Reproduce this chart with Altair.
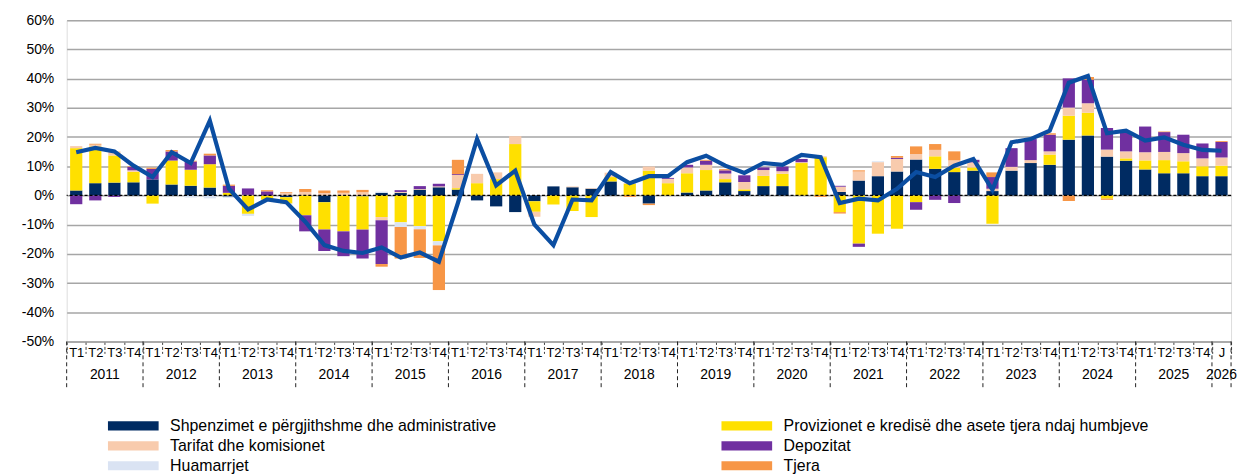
import altair as alt
import pandas as pd

# ---------------- data ----------------
quarters = ["T1", "T2", "T3", "T4"]
year_list = [str(y) for y in range(2011, 2026)] + ["2026"]
period_year = []
period_q = []
for y in range(2011, 2026):
    for q in quarters:
        period_year.append(str(y))
        period_q.append(q)
period_year.append("2026")
period_q.append("J")
periods = [f"{y}-{q}" for y, q in zip(period_year, period_q)]

series_names = [
    "Shpenzimet e përgjithshme dhe administrative",
    "Provizionet e kredisë dhe asete tjera ndaj humbjeve",
    "Tarifat dhe komisionet",
    "Depozitat",
    "Huamarrjet",
    "Tjera",
]
series_colors = ["#002B62", "#FFE000", "#F8CBAD", "#7030A0", "#DAE3F3", "#F79646"]

shpenzimet = [1.7, 4.2, 4.4, 4.5, 5.5, 3.75, 3.3, 2.7, -0.4, 0, 0, -0.6, 0, -2.3, 0, -0.3,
              0.9, 0.9, 2.0, 2.8, 2.0, -1.7, -3.75, -5.7, -2.0, 3.1, 2.8, 2.3, 4.8, 0, -2.8, 0,
              1.0, 1.7, 4.5, 1.5, 3.2, 3.2, 0, 0, 1.2, 5.1, 6.6, 8.2, 12.3, 9.1, 8.0, 8.5,
              1.5, 8.5, 11.1, 10.5, 19.1, 20.5, 13.3, 11.9, 8.9, 7.6, 7.6, 6.6, 6.6]
provizionet = [14.5, 12.6, 9.3, 3.6, -2.8, 8.2, 5.5, 8.0, 0.9, -6.3, -1.5, -2.2, -6.8, -9.4, -12.3, -11.4,
               -7.4, -9.2, -10.5, -15.7, 0.5, 4.2, 5.6, 17.6, -3.6, -3.1, -5.3, -7.4, 1.5, 4.0, 8.5, 4.2,
               6.6, 7.0, 1.1, 0.6, 3.5, 4.2, 11.1, 13.1, -5.7, -16.5, -13.1, -11.4, -2.3, 4.3, 1.5, 1.1,
               -9.7, 0, 0, 3.5, 8.2, 7.8, -1.1, 0.8, 3.1, 4.5, 4.1, 3.4, 3.6]
tarifat = [0.7, 0.6, 1.4, 0.5, 0, 0, 0, 0, 0, 0.2, 0, 0.8, 1.2, 0.8, 0.9, 1.1,
           -1.1, 0.3, 0.2, 0.3, 4.5, 3.2, 2.3, 2.7, -1.7, 0, 0.3, 0.2, 1.5, 0.3, 1.4, 1.5,
           2.0, 1.8, 1.9, 2.5, 2.0, 0.9, 0.3, 0.3, 1.8, 3.1, 4.8, 4.3, 1.9, 2.2, 2.5, 1.7,
           0.8, 1.3, 1.0, 1.1, 2.8, 3.3, 2.4, 2.4, 2.8, 2.8, 2.8, 2.7, 2.8]
depozitat = [-3.0, -1.7, -0.5, 1.2, 3.6, 3.1, 2.8, 3.0, 2.4, 2.2, 1.4, 0, -5.5, -7.3, -8.5, -9.9,
             -15.0, 0.6, 1.0, 0.9, 0.3, 0, 0, 0, 0, 0, 0, 0, 0, 0, 0, 0.3,
             0.9, 1.4, 1.1, 2.3, 0.9, 1.6, 1.1, 0, 0.3, -1.1, 0, 0.4, -2.6, -1.5, -2.6, 0.9,
             4.0, 6.4, 7.2, 5.7, 10.0, 8.0, 7.4, 6.4, 8.8, 6.8, 6.3, 5.1, 5.3]
huamarrjet = [0, 0, 0, 0, 0, 0, -0.7, -1.0, -0.4, -0.7, -0.4, -0.3, 0, 0, 0, 0,
              0.4, -1.6, -1.1, -1.4, 0, 0, 0, 0, 0, 0, 0, 0, 0, 0, 0, 0,
              0, 0, 0, 0, 0, 0, 0, 0, 0, 0, 0.3, 0, 0, 0, 0, 0,
              0, 0, 0, 0, 0, 0, 0, 0, 0, 0, 0, 0, 0]
tjera = [0, 0.3, 0, 0.2, 0.4, 0.5, 0.3, 0.6, 0.4, 0, 0.4, 0.3, 1.0, 0.9, 0.8, 0.8,
         -0.9, -10.8, -9.8, -15.3, 4.9, 0, 0, 0, 0, 0, 0, 0, 0, -0.5, -0.5, 0,
         0, 0.3, 0.4, 0, 0, 0, 0, -0.5, -0.5, 0.4, 0, 0.6, 2.6, 2.0, 3.1, 0,
         1.6, 0, 0, 0.5, -1.9, 1.0, -0.4, 0, 0, 0.2, 0, 0, 0.3]
total_line = [14.8, 16.3, 15.1, 10.2, 6.3, 14.8, 11.1, 25.6, 2.3, -4.8, -1.4, -2.3, -9.0, -17.0, -19.0, -19.7,
              -17.8, -21.3, -19.5, -22.7, -2.5, 19.3, 3.4, 8.5, -9.9, -17.0, -1.4, -1.7, 8.0, 4.2, 6.6, 6.6,
              11.4, 13.6, 10.2, 7.7, 11.1, 10.5, 13.9, 13.1, -2.6, -1.1, -1.7, 2.3, 8.0, 6.3, 10.2, 12.5,
              1.9, 18.2, 19.3, 22.2, 38.6, 40.9, 21.3, 22.2, 18.8, 19.9, 17.4, 15.6, 15.3]

series_values = [shpenzimet, provizionet, tarifat, depozitat, huamarrjet, tjera]

rows = []
for k, (name, vals) in enumerate(zip(series_names, series_values)):
    for p, v in zip(periods, vals):
        if v != 0:
            rows.append({"period": p, "series": name, "value": v, "order": k})
df_bars = pd.DataFrame(rows)
df_line = pd.DataFrame({"period": periods, "value": total_line})

df_year_mid = pd.DataFrame({"period": [f"{y}-T2" for y in year_list[:-1]], "label": year_list[:-1]})
df_year_last = pd.DataFrame({"period": ["2026-J"], "label": ["2026"]})
df_sep_start = pd.DataFrame({"period": [f"{y}-T1" for y in year_list[:-1]] + ["2026-J"]})
df_sep_end = pd.DataFrame({"period": ["2026-J"]})
df_zero = pd.DataFrame({"v": [0]})

# ---------------- layout ----------------
W, H = 1171, 323
FONT = "Liberation Sans"

xscale = alt.Scale(paddingInner=0, paddingOuter=0)
xaxis = alt.Axis(
    title=None, labelExpr="split(datum.label, '-')[1]", labelAngle=0, labelFont=FONT,
    labelFontSize=13, labelColor="#000", labelPadding=-7, tickBand="extent", tickSize=12,
    tickColor="#404040", tickDash=[3, 2], domainColor="#A6A6A6", domainWidth=1.5,
    grid=False, labelOverlap=False, labelFlush=False,
)
yscale = alt.Scale(domain=[-50, 60], nice=False, zero=False)
yaxis = alt.Axis(
    title=None, values=list(range(-50, 61, 10)), labelExpr="datum.value + '%'",
    labelFont=FONT, labelFontSize=14, labelColor="#000", labelPadding=13,
    ticks=False, domain=False, gridColor="#A6A6A6", gridWidth=1.5,
)


def X(bp=None):
    if bp is None:
        return alt.X("period:N", sort=periods, scale=xscale, axis=xaxis)
    return alt.X("period:N", sort=periods, scale=xscale, axis=xaxis, bandPosition=bp)


bars = alt.Chart(df_bars).mark_bar(width=alt.RelativeBandSize(0.64)).encode(
    x=X(),
    y=alt.Y("value:Q", stack="zero", scale=yscale, axis=yaxis),
    color=alt.Color(
        "series:N",
        scale=alt.Scale(domain=series_names, range=series_colors),
        legend=alt.Legend(
            title=None, orient="none", direction="horizontal", legendX=59, legendY=400,
            columns=2, columnPadding=225, rowPadding=4,
            symbolType="M-3.64,-0.66H3.64V0.66H-3.64Z",
            symbolSize=196, symbolStrokeWidth=0, labelFont=FONT, labelFontSize=16,
            labelColor="#000", labelOffset=29, labelLimit=0,
        ),
    ),
    order=alt.Order("order:Q", sort="ascending"),
)

zero = alt.Chart(df_zero).mark_rule(color="#000", strokeDash=[3, 2], strokeWidth=1.2).encode(
    y=alt.Y("v:Q", scale=yscale, axis=yaxis)
)

line = alt.Chart(df_line).mark_line(color="#0B4EA2", strokeWidth=4.2).encode(
    x=X(0.5), y=alt.Y("value:Q", scale=yscale, axis=yaxis)
)

sep_start = alt.Chart(df_sep_start).mark_rule(color="#222", strokeDash=[4, 3], strokeWidth=1).encode(
    x=X(0), y=alt.value(H), y2=alt.value(H + 46)
)
sep_end = alt.Chart(df_sep_end).mark_rule(color="#222", strokeDash=[4, 3], strokeWidth=1).encode(
    x=X(1), y=alt.value(H), y2=alt.value(H + 46)
)

year_mid = alt.Chart(df_year_mid).mark_text(font=FONT, fontSize=14, color="#000", baseline="middle").encode(
    x=X(1), y=alt.value(H + 34), text="label:N"
)
year_last = alt.Chart(df_year_last).mark_text(font=FONT, fontSize=14, color="#000", baseline="middle").encode(
    x=X(0.5), y=alt.value(H + 34), text="label:N"
)

chart = alt.layer(bars, zero, line, sep_start, sep_end, year_mid, year_last).properties(
    width=W, height=H,
    autosize=alt.AutoSizeParams(type="none"),
    padding={"left": 59, "top": 11, "right": 10, "bottom": 134},
).configure_view(stroke=None).configure(font=FONT)

chart.save("out.html", embed_options={"renderer": "svg", "actions": False})
